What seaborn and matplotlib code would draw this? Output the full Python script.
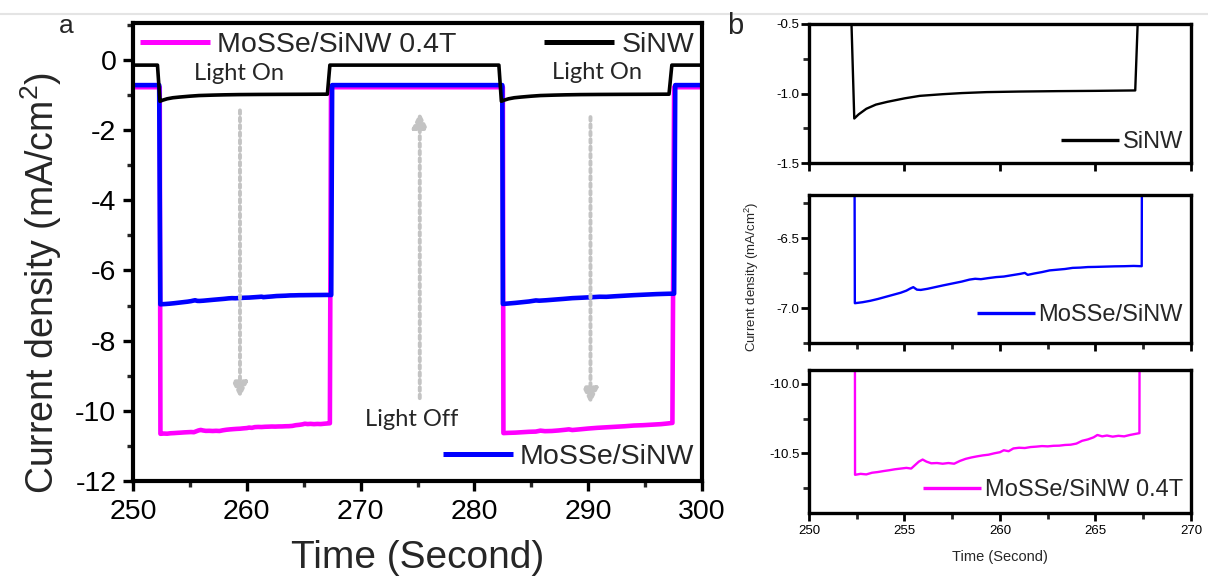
import numpy as np
import matplotlib
matplotlib.use("Agg")
import matplotlib.pyplot as plt
import seaborn as sns
from matplotlib.lines import Line2D
from matplotlib.ticker import MultipleLocator, FormatStrFormatter

# ---------------- data: current density (mA/cm^2) vs time (s) ----------------
sinw_t = [250.0, 252.15, 252.37, 252.6, 253.0, 253.5, 254.1, 255.0, 255.8, 257.0,
          258.0, 259.3, 261.0, 263.0, 265.0, 267.08, 267.3,
          282.15, 282.37, 282.6, 283.0, 283.5, 284.1, 285.0, 285.8, 287.0,
          288.0, 289.3, 291.0, 293.0, 295.0, 297.1, 297.35, 300.0]
sinw_j = [-0.15, -0.15, -1.18, -1.15, -1.11, -1.08, -1.06, -1.035, -1.017, -1.005,
          -0.997, -0.99, -0.986, -0.983, -0.981, -0.978, -0.15,
          -0.15, -1.18, -1.15, -1.11, -1.08, -1.06, -1.035, -1.017, -1.005,
          -0.997, -0.99, -0.986, -0.983, -0.981, -0.978, -0.15, -0.15]

mosse_t = [250.0, 252.3, 252.4, 252.8, 253.2, 253.6, 254.0, 254.4, 254.8, 255.1,
           255.3, 255.46, 255.65, 255.85, 256.2, 256.6, 257.0, 257.5, 258.0, 258.4,
           258.7, 259.0, 259.4, 259.8, 260.2, 260.6, 261.05, 261.3, 261.45, 261.8,
           262.2, 262.6, 263.0, 263.4, 263.8, 264.2, 264.6, 265.0, 265.5, 266.0,
           266.5, 267.0, 267.42, 267.5,
           282.45, 282.5, 283.0, 283.6, 284.2, 284.8, 285.4, 285.7, 286.3, 287.0,
           287.8, 288.6, 289.4, 290.2, 291.0, 291.6, 292.4, 293.2, 294.0, 295.0,
           296.0, 297.0, 297.55, 297.65, 300.0]
mosse_j = [-0.72, -0.72, -6.965, -6.958, -6.948, -6.935, -6.920, -6.905, -6.890, -6.875,
           -6.860, -6.850, -6.868, -6.870, -6.862, -6.850, -6.838, -6.824, -6.810, -6.796,
           -6.790, -6.793, -6.785, -6.778, -6.774, -6.765, -6.755, -6.748, -6.762, -6.752,
           -6.742, -6.730, -6.725, -6.720, -6.712, -6.710, -6.706, -6.705, -6.703, -6.701,
           -6.700, -6.698, -6.700, -0.72,
           -0.72, -6.955, -6.942, -6.925, -6.905, -6.885, -6.855, -6.862, -6.850, -6.832,
           -6.812, -6.790, -6.778, -6.765, -6.750, -6.752, -6.735, -6.720, -6.705, -6.690,
           -6.675, -6.665, -6.662, -0.72, -0.72]

mosse04_t = [250.0, 252.35, 252.41, 252.7, 253.0, 253.3, 253.6, 253.9, 254.2, 254.5,
             254.8, 255.1, 255.35, 255.55, 255.75, 255.95, 256.15, 256.4, 256.7, 257.0,
             257.3, 257.6, 257.9, 258.2, 258.5, 258.8, 259.1, 259.4, 259.7, 260.0,
             260.2, 260.45, 260.7, 261.0, 261.3, 261.6, 261.9, 262.2, 262.5, 262.8,
             263.1, 263.4, 263.7, 264.0, 264.3, 264.6, 264.9, 265.1, 265.35, 265.6,
             265.9, 266.2, 266.5, 266.8, 267.1, 267.3, 267.4,
             282.5, 282.55, 283.0, 283.6, 284.2, 284.8, 285.4, 285.8, 286.2, 286.8,
             287.4, 288.0, 288.3, 288.6, 289.2, 290.0, 290.8, 291.6, 292.4, 293.2,
             294.0, 294.8, 295.6, 296.4, 297.0, 297.4, 297.55, 300.0]
mosse04_j = [-0.78, -0.78, -10.655, -10.648, -10.652, -10.640, -10.635, -10.628, -10.622, -10.615,
             -10.610, -10.605, -10.610, -10.585, -10.560, -10.545, -10.560, -10.572, -10.570, -10.575,
             -10.570, -10.575, -10.555, -10.540, -10.530, -10.522, -10.515, -10.510, -10.500, -10.492,
             -10.478, -10.485, -10.465, -10.460, -10.462, -10.455, -10.452, -10.448, -10.450, -10.446,
             -10.445, -10.440, -10.438, -10.430, -10.410, -10.400, -10.385, -10.368, -10.378, -10.372,
             -10.380, -10.374, -10.378, -10.368, -10.360, -10.355, -0.78,
             -0.78, -10.635, -10.628, -10.622, -10.610, -10.598, -10.592, -10.565, -10.580, -10.575,
             -10.560, -10.540, -10.528, -10.548, -10.530, -10.505, -10.485, -10.470, -10.455, -10.440,
             -10.420, -10.410, -10.395, -10.380, -10.360, -10.345, -0.78, -0.78]

labels = ["SiNW", "MoSSe/SiNW", "MoSSe/SiNW 0.4T"]
colors = {"SiNW": "#000000", "MoSSe/SiNW": "#0000ff", "MoSSe/SiNW 0.4T": "#ff00ff"}

# light-state annotations: (x, y, text) and switching arrows: (x, y_start, y_tip)
state_text = [(259.3, -0.4, "Light On"), (290.8, -0.37, "Light On"), (274.5, -10.24, "Light Off")]
state_arrows = [(259.4, -1.44, -9.64), (275.2, -9.64, -1.49), (290.2, -1.63, -9.81)]

# ---------------- styling ----------------
sns.set_style("ticks")
plt.rcParams["font.family"] = ["Liberation Sans", "DejaVu Sans"]
plt.rcParams["axes.unicode_minus"] = False
plt.rcParams["mathtext.default"] = "regular"

W, H = 1208, 577
fig = plt.figure(figsize=(W / 100, H / 100), dpi=100)


def frac(x0, y0, x1, y1):
    return [x0 / W, 1 - y1 / H, (x1 - x0) / W, (y1 - y0) / H]


series = [
    ("MoSSe/SiNW 0.4T", mosse04_t, mosse04_j),
    ("MoSSe/SiNW", mosse_t, mosse_j),
    ("SiNW", sinw_t, sinw_j),
]

# ---------------- panel a ----------------
ax = fig.add_axes(frac(133, 23, 702, 481))
lw_a = {"SiNW": 2.6, "MoSSe/SiNW": 3.3, "MoSSe/SiNW 0.4T": 3.3}
for name, t, j in series:
    sns.lineplot(x=np.array(t), y=np.array(j), ax=ax, color=colors[name],
                 lw=lw_a[name], estimator=None, sort=False)

ax.set_xlim(250, 300)
ax.set_ylim(-12, 1.05)
ax.xaxis.set_major_locator(MultipleLocator(10))
ax.xaxis.set_minor_locator(MultipleLocator(5))
ax.yaxis.set_major_locator(MultipleLocator(2))
ax.yaxis.set_minor_locator(MultipleLocator(1))
for s in ax.spines.values():
    s.set_linewidth(3.0)
    s.set_color("black")
ax.tick_params(which="major", direction="out", length=7, width=2.4, labelsize=20.5,
               colors="black", pad=5)
ax.tick_params(which="minor", direction="out", length=4, width=2.4)
ax.tick_params(axis="x", which="major", pad=6)
ax.set_xlabel("Time (Second)", fontsize=28)
ax.set_ylabel("Current density (mA/cm$^2$)", fontsize=27)
ax.xaxis.set_label_coords(0.5, -0.128)
ax.yaxis.set_label_coords(-0.122, 0.432)

for x, y, s in state_text:
    ax.text(x, y, s, ha="center", va="center", fontsize=17, family=["Lato", "DejaVu Sans"])
for x, y0, y1 in state_arrows:
    ax.annotate("", xy=(x, y1), xytext=(x, y0),
                arrowprops=dict(arrowstyle="-|>,head_length=0.45,head_width=0.22",
                                mutation_scale=20, color="#c3c3c3", lw=2.8,
                                linestyle=(0, (0.9, 1.0)), shrinkA=0, shrinkB=0))


def handle(name, lw):
    return Line2D([], [], color=colors[name], lw=lw, solid_capstyle="butt")


leg_kw = dict(frameon=False, borderaxespad=0, borderpad=0, handletextpad=0.25)
l1 = ax.legend(handles=[handle("MoSSe/SiNW 0.4T", 3.6)], labels=["MoSSe/SiNW 0.4T"],
               loc="center left", bbox_to_anchor=(0.012, 0.952), fontsize=20.5,
               handlelength=2.45, **leg_kw)
ax.add_artist(l1)
l2 = ax.legend(handles=[handle("SiNW", 3.6)], labels=["SiNW"], loc="center right",
               bbox_to_anchor=(0.986, 0.952), fontsize=20.5, handlelength=2.45, **leg_kw)
ax.add_artist(l2)
ax.legend(handles=[handle("MoSSe/SiNW", 3.6)], labels=["MoSSe/SiNW"], loc="center right",
          bbox_to_anchor=(0.986, 0.052), fontsize=20.5, handlelength=2.45, **leg_kw)

# ---------------- panel b ----------------
boxes = [frac(809, 24, 1191, 163), frac(809, 195, 1191, 343), frac(809, 370, 1191, 513)]
order = ["SiNW", "MoSSe/SiNW", "MoSSe/SiNW 0.4T"]
data = {"SiNW": (sinw_t, sinw_j), "MoSSe/SiNW": (mosse_t, mosse_j),
        "MoSSe/SiNW 0.4T": (mosse04_t, mosse04_j)}
ylims = [(-1.5, -0.5), (-7.25, -6.19), (-10.93, -9.9)]
ymajor = [0.5, 0.5, 0.5]
legend_y = [0.151, 0.189, 0.161]

for i, name in enumerate(order):
    bx = fig.add_axes(boxes[i])
    t, j = data[name]
    sns.lineplot(x=np.array(t), y=np.array(j), ax=bx, color=colors[name], lw=1.7,
                 estimator=None, sort=False)
    bx.set_xlim(250, 270)
    bx.set_ylim(*ylims[i])
    bx.xaxis.set_major_locator(MultipleLocator(5))
    if i > 0:
        bx.xaxis.set_minor_locator(MultipleLocator(2.5))
    bx.yaxis.set_major_locator(MultipleLocator(ymajor[i]))
    bx.yaxis.set_minor_locator(MultipleLocator(0.25))
    bx.yaxis.set_major_formatter(FormatStrFormatter("%.1f"))
    for s in bx.spines.values():
        s.set_linewidth(2.4)
        s.set_color("black")
    bx.tick_params(which="major", direction="out", length=5.5, width=2.0, labelsize=9.5,
                   colors="black", pad=1.5)
    bx.tick_params(which="minor", direction="out", length=4, width=2.0)
    bx.set_xlabel("")
    bx.set_ylabel("")
    if i < 2:
        bx.tick_params(axis="x", labelbottom=False)
    else:
        bx.tick_params(axis="x", pad=3)
        bx.set_xlabel("Time (Second)", fontsize=10.5)
        bx.xaxis.set_label_coords(0.5, -0.26)
    bx.legend(handles=[handle(name, 2.4)], labels=[name], loc="center right",
              bbox_to_anchor=(0.979, legend_y[i]), fontsize=17, handlelength=2.45,
              frameon=False, borderaxespad=0, borderpad=0, handletextpad=0.15)

fig.text(752 / W, 1 - 277 / H, "Current density (mA/cm$^2$)", rotation=90,
         ha="center", va="center", fontsize=9.5)

# panel letters and top rule
fig.text(66 / W, 1 - 26 / H, "a", ha="center", va="center", fontsize=19)
fig.text(735 / W, 1 - 26 / H, "b", ha="center", va="center", fontsize=21)
fig.add_artist(Line2D([0, 1], [1 - 14 / H, 1 - 14 / H], color="#e4e4e4", lw=1.5))

fig.savefig("out.png", dpi=100)
